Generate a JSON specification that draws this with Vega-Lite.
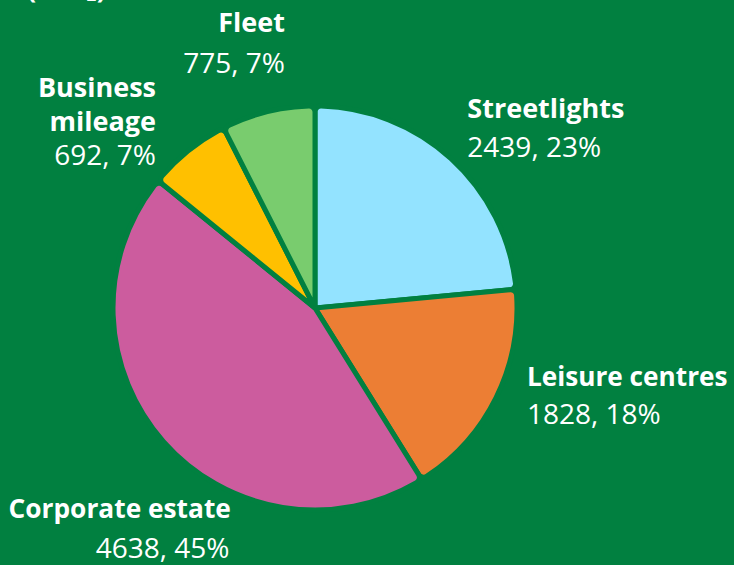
{
  "$schema": "https://vega.github.io/schema/vega-lite/v6.json",
  "width": 430,
  "height": 430,
  "autosize": {"type": "none"},
  "padding": {"left": 100, "top": 93, "right": 204, "bottom": 42},
  "background": "#018040",
  "config": {"view": {"stroke": null}, "font": "Open Sans"},
  "title": {"text": "(tCO₂)", "anchor": "start", "frame": "group", "fontSize": 27, "fontWeight": "bold", "color": "white", "dx": -73, "offset": 6},
  "data": {
    "values": [
      {"cat": "Streetlights", "value": 2439, "label": "2439, 23%", "rank": 1},
      {"cat": "Leisure centres", "value": 1828, "label": "1828, 18%", "rank": 2},
      {"cat": "Corporate estate", "value": 4638, "label": "4638, 45%", "rank": 3},
      {"cat": "Business mileage", "value": 692, "label": "692, 7%", "rank": 4},
      {"cat": "Fleet", "value": 775, "label": "775, 7%", "rank": 5}
    ]
  },
  "encoding": {
    "theta": {"field": "value", "type": "quantitative", "stack": true},
    "order": {"field": "rank", "type": "quantitative"}
  },
  "layer": [
    {
      "mark": {"type": "arc", "radius": 202, "stroke": "#018040", "strokeWidth": 5, "cornerRadius": 6},
      "encoding": {
        "color": {
          "field": "cat", "type": "nominal", "legend": null,
          "scale": {"domain": ["Streetlights", "Leisure centres", "Corporate estate", "Business mileage", "Fleet"],
                    "range": ["#93E3FF", "#EC7E34", "#CC5C9E", "#FFC000", "#79CC6E"]}
        }
      }
    },
    {
      "mark": {"type": "text", "radius": 250, "align": "left", "baseline": "alphabetic", "dx": -16, "dy": -5, "fontSize": 27, "fontWeight": "bold", "color": "white"},
      "encoding": {"text": {"condition": {"test": "datum.cat === 'Streetlights'", "field": "cat"}, "value": ""}}
    },
    {
      "mark": {"type": "text", "radius": 250, "align": "left", "baseline": "alphabetic", "dx": -16, "dy": 34, "fontSize": 28, "color": "white"},
      "encoding": {"text": {"condition": {"test": "datum.cat === 'Streetlights'", "field": "label"}, "value": ""}}
    },
    {
      "mark": {"type": "text", "radius": 250, "align": "left", "baseline": "alphabetic", "dx": -12, "dy": -33, "fontSize": 26.2, "fontWeight": "bold", "color": "white"},
      "encoding": {"text": {"condition": {"test": "datum.cat === 'Leisure centres'", "field": "cat"}, "value": ""}}
    },
    {
      "mark": {"type": "text", "radius": 250, "align": "left", "baseline": "alphabetic", "dx": -12, "dy": 5, "fontSize": 28, "color": "white"},
      "encoding": {"text": {"condition": {"test": "datum.cat === 'Leisure centres'", "field": "label"}, "value": ""}}
    },
    {
      "mark": {"type": "text", "radius": 250, "align": "left", "baseline": "alphabetic", "dx": -119, "dy": 45, "fontSize": 26.3, "fontWeight": "bold", "color": "white"},
      "encoding": {"text": {"condition": {"test": "datum.cat === 'Corporate estate'", "field": "cat"}, "value": ""}}
    },
    {
      "mark": {"type": "text", "radius": 250, "align": "right", "baseline": "alphabetic", "dx": 102, "dy": 85, "fontSize": 28, "color": "white"},
      "encoding": {"text": {"condition": {"test": "datum.cat === 'Corporate estate'", "field": "label"}, "value": ""}}
    },
    {
      "mark": {"type": "text", "radius": 250, "align": "right", "baseline": "alphabetic", "dx": -2, "dy": -16, "fontSize": 27, "fontWeight": "bold", "color": "white", "lineBreak": " ", "lineHeight": 34},
      "encoding": {"text": {"condition": {"test": "datum.cat === 'Business mileage'", "field": "cat"}, "value": ""}}
    },
    {
      "mark": {"type": "text", "radius": 250, "align": "right", "baseline": "alphabetic", "dx": -2, "dy": 52, "fontSize": 28, "color": "white"},
      "encoding": {"text": {"condition": {"test": "datum.cat === 'Business mileage'", "field": "label"}, "value": ""}}
    },
    {
      "mark": {"type": "text", "radius": 250, "align": "right", "baseline": "alphabetic", "dx": 28, "dy": -33, "fontSize": 27, "fontWeight": "bold", "color": "white"},
      "encoding": {"text": {"condition": {"test": "datum.cat === 'Fleet'", "field": "cat"}, "value": ""}}
    },
    {
      "mark": {"type": "text", "radius": 250, "align": "right", "baseline": "alphabetic", "dx": 28, "dy": 8, "fontSize": 28, "color": "white"},
      "encoding": {"text": {"condition": {"test": "datum.cat === 'Fleet'", "field": "label"}, "value": ""}}
    }
  ]
}
